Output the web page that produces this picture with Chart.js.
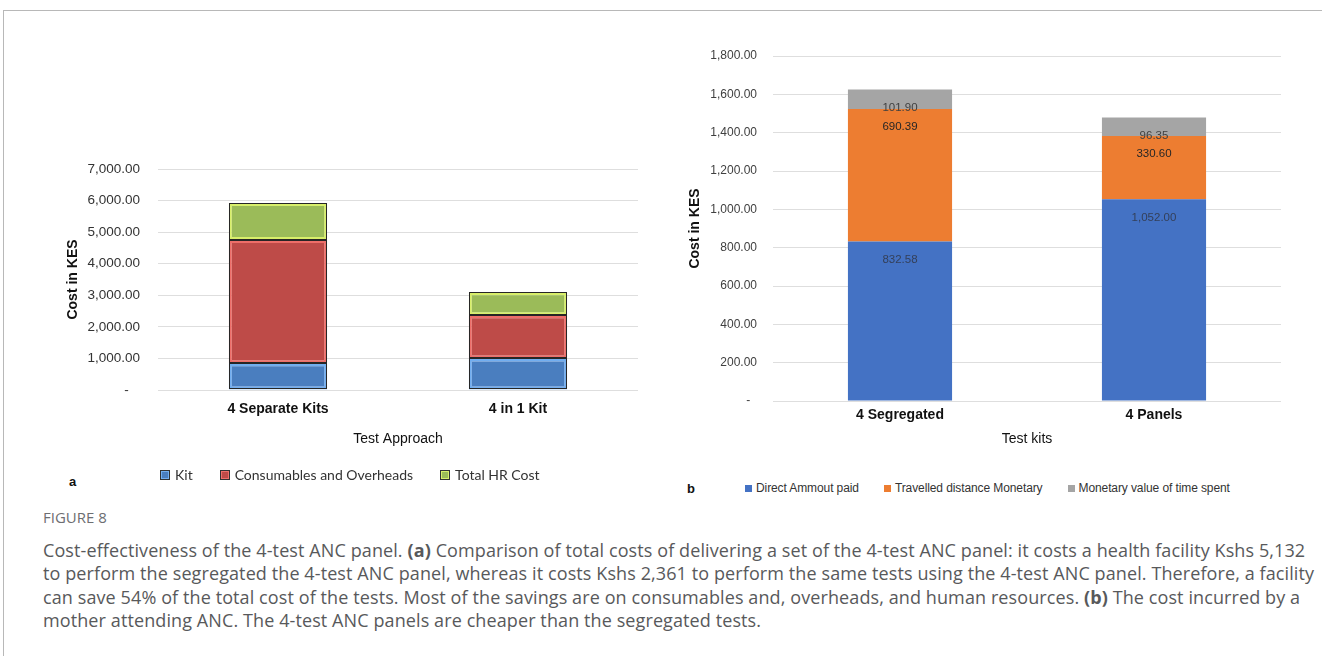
<!DOCTYPE html>
<html lang="en">
<head>
<meta charset="UTF-8">
<title>Figure 8 - Cost-effectiveness of the 4-test ANC panel</title>
<script src="https://cdn.jsdelivr.net/npm/chart.js@4"></script>
<style>
  body {
    margin: 0;
    width: 1322px;
    height: 659px;
    position: relative;
    overflow: hidden;
    background: #fff;
    font-family: 'Liberation Sans', Arial, sans-serif;
  }
  .frame {
    position: absolute;
    left: 3px; top: 10px;
    width: 1330px; height: 645px;
    border-top: 1px solid #b8b8b8;
    border-left: 1px solid #b8b8b8;
  }
  #wrapA { position: absolute; left: 40px; top: 140px; }
  #wrapB { position: absolute; left: 660px; top: 40px; }
  .tag { position: absolute; font-weight: bold; font-size: 13px; color: #111; }
  .legend {
    position: absolute;
    display: flex;
    align-items: center;
    white-space: nowrap;
    color: #333;
  }
  #legendA { left: 160px; top: 466px; font: 14px Lato, 'Open Sans', sans-serif; }
  #legendA .item { display: flex; align-items: center; margin-right: 27px; }
  #legendA .swatch { width: 8px; height: 8px; border: 1px solid #333; margin-right: 5px; }
  #legendB { left: 745px; top: 481px; font: 12px 'Liberation Sans', Arial, sans-serif; letter-spacing: -0.1px; }
  #legendB .item { display: flex; align-items: center; margin-right: 25px; }
  #legendB .swatch { width: 7px; height: 7px; margin-right: 4px; }
  .figno {
    position: absolute; left: 43px; top: 507px;
    font: 15px 'Open Sans', sans-serif; color: #6d6e71;
  }
  .caption {
    position: absolute; left: 43px; top: 539px;
    font: 18px 'Open Sans', sans-serif; color: #58595b;
    letter-spacing: 0.1px;
    line-height: 23.4px; white-space: nowrap;
  }
</style>
</head>
<body>
<div class="frame"></div>

<div id="wrapA"><canvas id="chartA" width="610" height="330"></canvas></div>
<div id="wrapB"><canvas id="chartB" width="640" height="430"></canvas></div>

<div class="tag" style="left:69px; top:474px;">a</div>
<div class="tag" style="left:687px; top:481px;">b</div>
<div class="legend" id="legendA"></div>
<div class="legend" id="legendB"></div>

<div class="figno">FIGURE 8</div>
<div class="caption">
  Cost-effectiveness of the 4-test ANC panel. <b>(a)</b> Comparison of total costs of delivering a set of the 4-test ANC panel: it costs a health facility Kshs 5,132<br>
  to perform the segregated the 4-test ANC panel, whereas it costs Kshs 2,361 to perform the same tests using the 4-test ANC panel. Therefore, a facility<br>
  can save 54% of the total cost of the tests. Most of the savings are on consumables and, overheads, and human resources. <b>(b)</b> The cost incurred by a<br>
  mother attending ANC. The 4-test ANC panels are cheaper than the segregated tests.
</div>

<script>
  // (a) facility cost per approach, KES
  const approaches = ['4 Separate Kits', '4 in 1 Kit'];
  const kitCost = [850, 1000];
  const consumablesCost = [3900, 1370];
  const hrCost = [1170, 730];
  const facilitySeries = ['Kit', 'Consumables and Overheads', 'Total HR Cost'];
  const facilityMax = 7000, facilityStep = 1000;

  // (b) cost to the mother per test kit, KES
  const testKits = ['4 Segregated', '4 Panels'];
  const directAmount = [832.58, 1052.00];
  const travelCost = [690.39, 330.60];
  const timeValue = [101.90, 96.35];
  const motherSeries = ['Direct Ammout paid', 'Travelled distance Monetary', 'Monetary value of time spent'];
  const motherMax = 1800, motherStep = 200;

  const fillA = ['#4a7ebf', '#be4b48', '#9bbb59'];
  const edgeA = ['#72aef0', '#ee6e69', '#d8ef6a'];
  const fillB = ['#4472c4', '#ed7d31', '#a5a5a5'];
  const labelInk = ['#34405a', '#262626', '#404040'];

  const sans = "'Liberation Sans', Arial, sans-serif";

  const money = v => v.toLocaleString('en-US', { minimumFractionDigits: 2, maximumFractionDigits: 2 });

  // fixed axis width; drop the label overflow padding so layout.padding sets the plot top
  const fixWidth = w => s => { s.width = w; s.paddingTop = 0; s.paddingBottom = 0; };

  // dark outline around each stacked block, like the old Excel bevel style
  const barOutline = {
    id: 'barOutline',
    afterDatasetsDraw(chart) {
      const { ctx } = chart;
      ctx.save();
      ctx.strokeStyle = '#262626';
      ctx.lineWidth = 1;
      chart.data.datasets.forEach((ds, i) => {
        chart.getDatasetMeta(i).data.forEach(bar => {
          const { x, y, base, width } = bar.getProps(['x', 'y', 'base', 'width'], true);
          const left = Math.round(x - width / 2) + 0.5;
          const top = Math.round(Math.min(y, base)) + 0.5;
          ctx.strokeRect(left, top, Math.round(width) - 1, Math.round(Math.abs(base - y)) - 1);
        });
      });
      ctx.restore();
    }
  };

  // value printed just under the top of each segment
  const segmentLabels = {
    id: 'segmentLabels',
    afterDatasetsDraw(chart) {
      const { ctx } = chart;
      ctx.save();
      ctx.font = '11.5px ' + sans;
      ctx.textAlign = 'center';
      ctx.textBaseline = 'middle';
      chart.data.datasets.forEach((ds, i) => {
        ctx.fillStyle = labelInk[i];
        chart.getDatasetMeta(i).data.forEach((bar, j) => {
          ctx.fillText(money(ds.data[j]), bar.x, bar.y + 18);
        });
      });
      ctx.restore();
    }
  };

  function axisTitle(text, extra) {
    return Object.assign({ display: true, text: text, color: '#111', font: { family: sans, size: 14 } }, extra);
  }

  new Chart(document.getElementById('chartA'), {
    type: 'bar',
    data: {
      labels: approaches,
      datasets: [kitCost, consumablesCost, hrCost].map((d, i) => ({
        label: facilitySeries[i],
        data: d,
        backgroundColor: fillA[i],
        borderColor: edgeA[i],
        borderWidth: 3,
        borderSkipped: false,
        barPercentage: 0.41,
        categoryPercentage: 1
      }))
    },
    options: {
      responsive: false,
      animation: false,
      layout: { padding: { top: 29, right: 12, bottom: 10, left: 0 } },
      plugins: { legend: { display: false }, tooltip: { enabled: false } },
      scales: {
        x: {
          stacked: true,
          grid: { display: false },
          border: { display: false },
          ticks: { padding: 3, color: '#111', font: { family: sans, size: 14, weight: 'bold' } },
          title: axisTitle('Test Approach', { padding: { top: 0, bottom: 12 } }),
          afterFit: s => { s.height = 70; }
        },
        y: {
          stacked: true,
          min: 0,
          max: facilityMax,
          grid: { color: '#dedede', drawTicks: false },
          border: { display: false },
          ticks: {
            stepSize: facilityStep,
            padding: 18,
            color: '#333',
            font: { family: sans, size: 13.5 },
            callback: v => v === 0 ? '-   ' : money(v)
          },
          title: axisTitle('Cost in KES', { font: { family: sans, size: 14, weight: 'bold' }, padding: { top: 25, bottom: 0 } }),
          afterFit: fixWidth(118)
        }
      }
    },
    plugins: [barOutline]
  });

  new Chart(document.getElementById('chartB'), {
    type: 'bar',
    data: {
      labels: testKits,
      datasets: [directAmount, travelCost, timeValue].map((d, i) => ({
        label: motherSeries[i],
        data: d,
        backgroundColor: fillB[i],
        borderWidth: 0,
        barPercentage: 0.41,
        categoryPercentage: 1
      }))
    },
    options: {
      responsive: false,
      animation: false,
      layout: { padding: { top: 16, right: 19, bottom: 9, left: 0 } },
      plugins: { legend: { display: false }, tooltip: { enabled: false } },
      scales: {
        x: {
          stacked: true,
          grid: { display: false },
          border: { display: false },
          ticks: { padding: -2, color: '#111', font: { family: sans, size: 14, weight: 'bold' } },
          title: axisTitle('Test kits', { padding: { top: 0, bottom: 13 } }),
          afterFit: s => { s.height = 60; }
        },
        y: {
          stacked: true,
          min: 0,
          max: motherMax,
          grid: { color: '#dedede', drawTicks: false },
          border: { display: false },
          ticks: {
            stepSize: motherStep,
            padding: 16,
            color: '#404040',
            font: { family: sans, size: 12 },
            callback: v => v === 0 ? '-  ' : money(v)
          },
          title: axisTitle('Cost in KES', { font: { family: sans, size: 14, weight: 'bold' }, padding: { top: 26.6, bottom: 0 } }),
          afterFit: fixWidth(113)
        }
      }
    },
    plugins: [segmentLabels]
  });

  // HTML legends built from the series names
  function buildLegend(id, names, fills, edges) {
    const box = document.getElementById(id);
    names.forEach((name, i) => {
      const item = document.createElement('span');
      item.className = 'item';
      const sw = document.createElement('span');
      sw.className = 'swatch';
      sw.style.background = fills[i];
      if (edges) sw.style.boxShadow = 'inset 0 0 0 1px ' + edges[i];
      item.appendChild(sw);
      item.appendChild(document.createTextNode(name));
      box.appendChild(item);
    });
  }
  buildLegend('legendA', facilitySeries, fillA, edgeA);
  buildLegend('legendB', motherSeries, fillB, null);
</script>
</body>
</html>
